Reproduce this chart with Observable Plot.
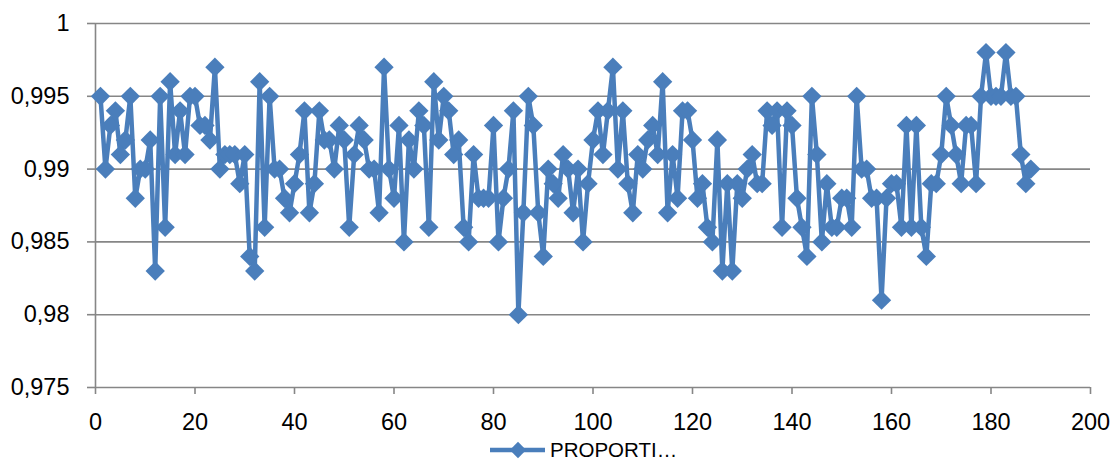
<!DOCTYPE html>
<html>
<head>
<meta charset="utf-8">
<script src="https://cdn.jsdelivr.net/npm/d3@7"></script>
<script src="https://cdn.jsdelivr.net/npm/@observablehq/plot@0.6"></script>
<style>
  html, body { margin: 0; padding: 0; background: #fff; }
  #chart { width: 1113px; height: 461px; overflow: hidden; }
  svg { display: block; }
</style>
</head>
<body>
<div id="chart"></div>
<script>
// Series name (legend is truncated as in the reference)
const seriesName = "PROPORTI…";

// Proportion values for observations 1..188
const proportion = [
  0.995, 0.990, 0.993, 0.994, 0.991, 0.992, 0.995, 0.988, 0.990, 0.990,
  0.992, 0.983, 0.995, 0.986, 0.996, 0.991, 0.994, 0.991, 0.995, 0.995,
  0.993, 0.993, 0.992, 0.997, 0.990, 0.991, 0.991, 0.991, 0.989, 0.991,
  0.984, 0.983, 0.996, 0.986, 0.995, 0.990, 0.990, 0.988, 0.987, 0.989,
  0.991, 0.994, 0.987, 0.989, 0.994, 0.992, 0.992, 0.990, 0.993, 0.992,
  0.986, 0.991, 0.993, 0.992, 0.990, 0.990, 0.987, 0.997, 0.990, 0.988,
  0.993, 0.985, 0.992, 0.990, 0.994, 0.993, 0.986, 0.996, 0.992, 0.995,
  0.994, 0.991, 0.992, 0.986, 0.985, 0.991, 0.988, 0.988, 0.988, 0.993,
  0.985, 0.988, 0.990, 0.994, 0.980, 0.987, 0.995, 0.993, 0.987, 0.984,
  0.990, 0.989, 0.988, 0.991, 0.990, 0.987, 0.990, 0.985, 0.989, 0.992,
  0.994, 0.991, 0.994, 0.997, 0.990, 0.994, 0.989, 0.987, 0.991, 0.990,
  0.992, 0.993, 0.991, 0.996, 0.987, 0.991, 0.988, 0.994, 0.994, 0.992,
  0.988, 0.989, 0.986, 0.985, 0.992, 0.983, 0.989, 0.983, 0.989, 0.988,
  0.990, 0.991, 0.989, 0.989, 0.994, 0.993, 0.994, 0.986, 0.994, 0.993,
  0.988, 0.986, 0.984, 0.995, 0.991, 0.985, 0.989, 0.986, 0.986, 0.988,
  0.988, 0.986, 0.995, 0.990, 0.990, 0.988, 0.988, 0.981, 0.988, 0.989,
  0.989, 0.986, 0.993, 0.986, 0.993, 0.986, 0.984, 0.989, 0.989, 0.991,
  0.995, 0.993, 0.991, 0.989, 0.993, 0.993, 0.989, 0.995, 0.998, 0.995,
  0.995, 0.995, 0.998, 0.995, 0.995, 0.991, 0.989, 0.990
];

// Axis ticks
const xTicks = [0, 20, 40, 60, 80, 100, 120, 140, 160, 180, 200];
const yTicks = [0.975, 0.98, 0.985, 0.99, 0.995, 1];

const data = proportion.map((v, i) => ({obs: i + 1, value: v}));

const blue = "#4A7EBB";
const gray = "#868686";
const font = "'Liberation Sans', Arial, sans-serif";
const fmt = d => String(d).replace(".", ",");

const plot = Plot.plot({
  width: 1113,
  height: 437,
  marginLeft: 95,
  marginRight: 23,
  marginTop: 23,
  marginBottom: 50,
  style: {fontFamily: font, fontSize: "23.5px", color: "#000", background: "#fff", overflow: "visible"},
  x: {domain: [0, 200]},
  y: {domain: [0.975, 1]},
  marks: [
    Plot.gridY(yTicks, {stroke: gray, strokeOpacity: 1, strokeWidth: 1.6}),
    Plot.ruleX([0], {stroke: gray, strokeWidth: 1.6}),
    Plot.axisY(yTicks, {tickSize: 8, tickPadding: 18, stroke: gray, strokeWidth: 1.6, fill: "#000", tickFormat: fmt, label: null}),
    Plot.axisX(xTicks, {tickSize: 7, tickPadding: 19, stroke: gray, strokeWidth: 1.6, fill: "#000", tickFormat: d => String(d), label: null}),
    Plot.line(data, {x: "obs", y: "value", stroke: blue, strokeWidth: 4.5, strokeLinejoin: "round"}),
    Plot.dot(data, {x: "obs", y: "value", symbol: "diamond2", fill: blue, stroke: "none", r: 8.7})
  ]
});
document.getElementById("chart").appendChild(plot);

// Legend below the chart
const legend = d3.select("#chart").append("svg")
  .attr("width", 1113).attr("height", 24)
  .style("font-family", font);
legend.append("line")
  .attr("x1", 490).attr("x2", 545).attr("y1", 13).attr("y2", 13)
  .attr("stroke", blue).attr("stroke-width", 4.5);
legend.append("path")
  .attr("transform", "translate(518,13)")
  .attr("d", d3.symbol(d3.symbolDiamond2, 170)())
  .attr("fill", blue);
legend.append("text")
  .attr("x", 550).attr("y", 20)
  .attr("font-size", "20.5px")
  .attr("fill", "#000")
  .text(seriesName);
</script>
</body>
</html>
